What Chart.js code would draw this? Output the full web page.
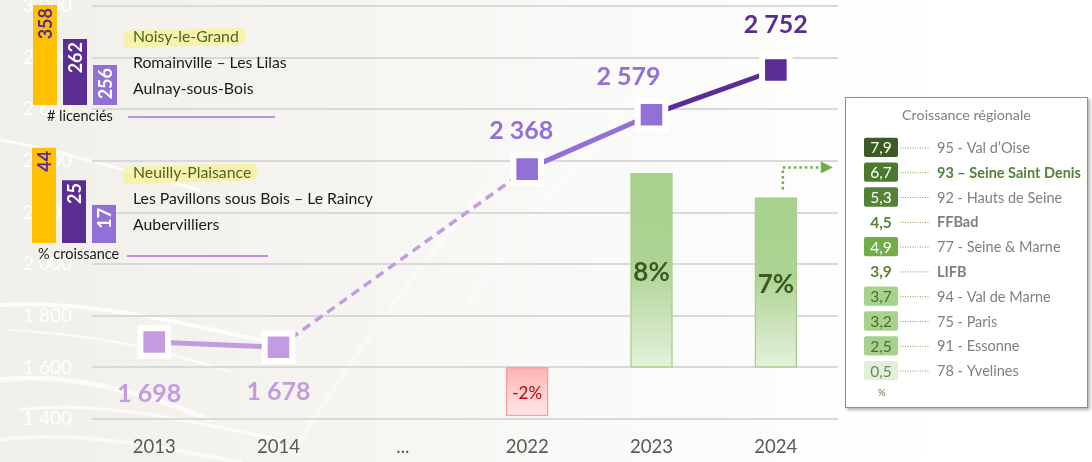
<!DOCTYPE html>
<html lang="fr">
<head>
<meta charset="utf-8">
<script src="https://cdn.jsdelivr.net/npm/chart.js@4.4.1/dist/chart.umd.min.js"></script>
<style>
  html, body { margin: 0; padding: 0; }
  body {
    width: 1092px; height: 462px; overflow: hidden; position: relative;
    font-family: Lato, 'Open Sans', sans-serif;
    background: linear-gradient(90deg, #f1efe9 0%, #f5f4f0 28%, #f9f9f7 52%, #fdfdfc 74%, #ffffff 86%);
  }
  #swirl { position: absolute; left: 0; top: 0; }
  #main { position: absolute; left: 0; top: 0; }
  .mini { position: absolute; }
  .town { position: absolute; font-size: 15.8px; color: #1a1a1a; white-space: nowrap; line-height: 1; transform: translateY(-50%); }
  .town.first { color: #4f6228; }
  .town.first::before {
    content: ''; position: absolute; left: -10px; right: -6px; top: 1px; bottom: -2px; z-index: -1;
    background: rgba(248, 242, 150, 0.75); border-radius: 6px 3px 7px 2px; transform: rotate(-1.5deg);
  }
  .caption { position: absolute; font-size: 14.5px; color: #1a1a1a; line-height: 1; transform: translateY(-50%); white-space: nowrap; }
  .rule { position: absolute; height: 1.5px; background: #b894e0; }
  #panel {
    position: absolute; left: 845px; top: 97px; width: 243px; height: 311px; box-sizing: border-box;
    background: #fff; border: 1px solid #8c8c8c; box-shadow: 2px 2px 3px rgba(0,0,0,0.3);
  }
  #panel .title { position: absolute; left: 0; right: 0; top: 8px; text-align: center; font-size: 14.3px; color: #808080; }
  #panel .unit { position: absolute; left: 32px; top: 289px; font-size: 9.5px; color: #548235; }
  #regionChart { position: absolute; left: 18px; top: 37px; }
</style>
</head>
<body>
<svg id="swirl" width="1092" height="462">
  <g fill="none" stroke="#ffffff" stroke-linecap="round">
    <path d="M0 140 C 60 150, 120 170, 200 190" stroke-width="3" opacity="0.8"/>
    <path d="M0 305 C 80 300, 160 318, 260 340" stroke-width="4" opacity="0.8"/>
    <path d="M10 330 C 90 335, 150 345, 230 372" stroke-width="2" opacity="0.8"/>
    <path d="M0 380 C 60 372, 140 390, 210 420" stroke-width="5" opacity="0.7"/>
    <path d="M20 410 C 90 400, 180 418, 280 440" stroke-width="3" opacity="0.7"/>
    <path d="M0 440 C 70 430, 150 445, 240 462" stroke-width="4" opacity="0.6"/>
    <path d="M300 440 C 350 360, 420 260, 520 150" stroke-width="6" opacity="0.35"/>
    <path d="M470 300 C 520 230, 580 160, 640 90" stroke-width="8" opacity="0.3"/>
  </g>
</svg>
<canvas id="main" width="1092" height="462"></canvas>
<canvas id="miniLicencies" class="mini" width="90" height="105" style="left:30px;top:0px"></canvas>
<canvas id="miniGrowth" class="mini" width="90" height="100" style="left:29px;top:143px"></canvas>
<div id="towns"></div>
<div class="caption" style="left:47px;top:116px"># licenciés</div>
<div class="rule" style="left:128px;top:116px;width:147px"></div>
<div class="caption" style="left:38px;top:254px">% croissance</div>
<div class="rule" style="left:127px;top:255px;width:141px"></div>
<div id="panel">
  <div class="title">Croissance régionale</div>
  <canvas id="regionChart" width="222" height="248"></canvas>
  <div class="unit">%</div>
</div>
<script>
const years = ['2013', '2014', '...', '2022', '2023', '2024'];
const licencies = [1698, 1678, null, 2368, 2579, 2752];
const growthPct = [null, null, null, -2, 8, 7];

const topTownsLicencies = ['Noisy-le-Grand', 'Romainville – Les Lilas', 'Aulnay-sous-Bois'];
const licenciesByTown = [358, 262, 256];
const topTownsGrowth = ['Neuilly-Plaisance', 'Les Pavillons sous Bois – Le Raincy', 'Aubervilliers'];
const growthByTown = [44, 25, 17];
const podium = [100, 66, 40]; // decorative podium heights, not proportional

const regions = ['95 - Val d’Oise', '93 – Seine Saint Denis', '92 - Hauts de Seine', 'FFBad', '77 - Seine & Marne',
  'LIFB', '94 - Val de Marne', '75 - Paris', '91 - Essonne', '78 - Yvelines'];
const regionGrowth = [7.9, 6.7, 5.3, 4.5, 4.9, 3.9, 3.7, 3.2, 2.5, 0.5];
const benchmarks = ['FFBad', 'LIFB'];
const highlighted = '93 – Seine Saint Denis';

const Y_MIN = 1400, Y_MAX = 3000, Y_ZERO = 1600, LIC_PER_PCT = 94;
const FONT = 'Lato, "Open Sans", sans-serif';
const PURPLE = { light: '#c39be0', mid: '#9370d6', dark: '#5b2c95' };

const fmt = (n) => String(n).replace(/\B(?=(\d{3})+(?!\d))/g, ' ');
const tier = (i) => i <= 1 ? PURPLE.light : i <= 4 ? PURPLE.mid : PURPLE.dark;
const isGap = (s) => licencies[s.p0DataIndex] == null; // segment spanning the "..." gap

// town names as text
const townsBox = document.getElementById('towns');
function addTowns(names, x, y0) {
    names.forEach((name, i) => {
        const d = document.createElement('div');
        d.className = 'town' + (i === 0 ? ' first' : '');
        d.style.left = x + 'px';
        d.style.top = (y0 + i * 26) + 'px';
        d.textContent = name;
        townsBox.appendChild(d);
    });
}
addTowns(topTownsLicencies, 133, 36);
addTowns(topTownsGrowth, 133, 172);

// faint white y labels, drawn by hand so they add no padding to the chart area
const yLabelsPlugin = {
    id: 'yLabels',
    beforeDatasetsDraw(chart) {
        const ctx = chart.ctx, y = chart.scales.y;
        ctx.save();
        ctx.textAlign = 'right';
        ctx.textBaseline = 'middle';
        ctx.font = '19px ' + FONT;
        ctx.fillStyle = 'rgba(255,255,255,0.95)';
        y.ticks.forEach((t) => ctx.fillText(fmt(t.value), chart.chartArea.left - 20, y.getPixelForValue(t.value)));
        ctx.restore();
    }
};

const labelsPlugin = {
    id: 'labels',
    afterDatasetsDraw(chart) {
        const ctx = chart.ctx;
        const line = chart.getDatasetMeta(0).data;
        ctx.save();
        ctx.textAlign = 'center';
        ctx.textBaseline = 'middle';
        ctx.font = 'bold 25px ' + FONT;
        licencies.forEach((v, i) => {
            if (v == null) return;
            const p = line[i];
            const dy = i < 2 ? 52 - (i * 7) : -38 - (i === 5 ? 7 : 0);
            const dx = i === 0 ? -5 : i === 3 ? -6 : i === 4 ? -23 : 0;
            ctx.fillStyle = tier(i);
            ctx.fillText(fmt(v), p.x + dx, p.y + dy);
        });
        const bars = chart.getDatasetMeta(1).data;
        growthPct.forEach((v, i) => {
            if (v == null) return;
            const b = bars[i];
            const mid = (b.y + b.base) / 2;
            if (v < 0) {
                ctx.font = '17px ' + FONT;
                ctx.fillStyle = '#c00000';
            } else {
                ctx.font = 'bold 26px ' + FONT;
                ctx.fillStyle = '#3b5a22';
            }
            ctx.fillText(v + '%', b.x, mid + 2);
        });
        // dotted arrow towards the regional panel
        const last = bars[bars.length - 1];
        const ax = last.x + 7, ay = last.y - 30;
        ctx.strokeStyle = '#70ad47';
        ctx.fillStyle = '#70ad47';
        ctx.lineWidth = 2.5;
        ctx.setLineDash([2.5, 3]);
        ctx.beginPath();
        ctx.moveTo(ax, last.y - 8);
        ctx.lineTo(ax, ay);
        ctx.lineTo(ax + 38, ay);
        ctx.stroke();
        ctx.setLineDash([]);
        ctx.beginPath();
        ctx.moveTo(ax + 38, ay - 6);
        ctx.lineTo(ax + 50, ay);
        ctx.lineTo(ax + 38, ay + 6);
        ctx.closePath();
        ctx.fill();
        ctx.restore();
    }
};

function barFill(c) {
    const v = c.raw;
    const y2 = c.chart.scales.y2;
    if (v == null || !y2) return '#a9d18e';
    const top = y2.getPixelForValue(Math.max(v, 0));
    const bot = y2.getPixelForValue(Math.min(v, 0));
    const g = c.chart.ctx.createLinearGradient(0, top, 0, bot);
    if (v < 0) {
        g.addColorStop(0, '#ffb3b3');
        g.addColorStop(1, '#ffe8e8');
    } else {
        g.addColorStop(0, '#a9d18e');
        g.addColorStop(0.45, '#acd391');
        g.addColorStop(1, '#e4f1dc');
    }
    return g;
}

new Chart(document.getElementById('main'), {
    data: {
        labels: years,
        datasets: [{
            type: 'line',
            data: licencies,
            order: 0,
            spanGaps: true,
            borderWidth: 5,
            pointStyle: 'rect',
            pointRadius: 19.5,
            pointHoverRadius: 19.5,
            pointBorderWidth: 6,
            pointBorderColor: '#ffffff',
            pointBackgroundColor: (c) => tier(c.dataIndex),
            segment: {
                borderColor: (s) => isGap(s) ? PURPLE.light : tier(s.p1DataIndex),
                borderDash: (s) => isGap(s) ? [9, 6] : undefined,
                borderWidth: (s) => isGap(s) ? 3.5 : undefined
            },
            yAxisID: 'y'
        }, {
            type: 'bar',
            data: growthPct,
            order: 1,
            yAxisID: 'y2',
            barThickness: 42,
            backgroundColor: barFill,
            borderColor: (c) => c.raw < 0 ? '#ff9c9c' : '#a9d18e',
            borderWidth: 1.5,
            borderSkipped: false
        }]
    },
    options: {
        responsive: false,
        animation: false,
        events: [],
        layout: { autoPadding: false, padding: { top: 6, right: 254, bottom: 0, left: 0 } },
        plugins: { legend: { display: false }, tooltip: { enabled: false } },
        scales: {
            x: {
                grid: { display: false },
                border: { display: false },
                ticks: { color: '#595959', font: { family: FONT, size: 18.5 }, padding: 9 },
                afterFit(scale) { scale.height = 43; }
            },
            y: {
                min: Y_MIN, max: Y_MAX,
                grid: { color: '#d9d9d9', lineWidth: 2, drawTicks: false },
                border: { display: false },
                ticks: { stepSize: 200, display: false },
                afterFit(scale) { scale.width = 92; }
            },
            y2: {
                display: false,
                min: (Y_MIN - Y_ZERO) / LIC_PER_PCT,
                max: (Y_MAX - Y_ZERO) / LIC_PER_PCT
            }
        }
    },
    plugins: [yLabelsPlugin, labelsPlugin]
});

// decorative podium legends
function podiumChart(id, values) {
    new Chart(document.getElementById(id), {
        type: 'bar',
        data: {
            labels: values.map(String),
            datasets: [{
                data: podium,
                backgroundColor: ['#ffc000', '#5b2c91', '#9370d6'],
                barPercentage: 0.8,
                categoryPercentage: 1
            }]
        },
        options: {
            responsive: false,
            animation: false,
            events: [],
            layout: { padding: 0 },
            plugins: { legend: { display: false }, tooltip: { enabled: false } },
            scales: {
                x: { display: false },
                y: { display: false, min: 0, max: 105 }
            }
        },
        plugins: [{
            id: 'podiumLabels',
            afterDatasetsDraw(chart) {
                const ctx = chart.ctx;
                chart.getDatasetMeta(0).data.forEach((b, i) => {
                    ctx.save();
                    ctx.translate(b.x, b.y + 3);
                    ctx.rotate(-Math.PI / 2);
                    ctx.textAlign = 'right';
                    ctx.textBaseline = 'middle';
                    ctx.font = 'bold 18px ' + FONT;
                    ctx.fillStyle = i === 0 ? '#5b2c91' : '#ffffff';
                    ctx.fillText(String(values[i]), 0, 1);
                    ctx.restore();
                });
            }
        }]
    });
}
podiumChart('miniLicencies', licenciesByTown);
podiumChart('miniGrowth', growthByTown);

// regional growth boxes
function boxColor(v) {
    if (v >= 7) return '#3b5a24';
    if (v >= 6) return '#4a7a2c';
    if (v >= 5) return '#548235';
    if (v >= 4) return '#70ad47';
    if (v >= 2) return '#a9d18e';
    return '#e2f0d9';
}
const isBench = (name) => benchmarks.includes(name);
const comma = (v) => v.toFixed(1).replace('.', ',');

new Chart(document.getElementById('regionChart'), {
    type: 'bar',
    data: {
        labels: regions,
        datasets: [{
            data: regions.map((r) => isBench(r) ? null : [0, 1]),
            backgroundColor: regionGrowth.map(boxColor),
            borderRadius: 2,
            borderSkipped: false,
            barPercentage: 0.78,
            categoryPercentage: 1
        }]
    },
    options: {
        indexAxis: 'y',
        responsive: false,
        animation: false,
        events: [],
        layout: { padding: 0 },
        plugins: { legend: { display: false }, tooltip: { enabled: false } },
        scales: {
            x: { display: false, min: 0, max: 222 / 34 },
            y: { display: false }
        }
    },
    plugins: [{
        id: 'regionText',
        afterDatasetsDraw(chart) {
            const ctx = chart.ctx;
            const xs = chart.scales.x, ys = chart.scales.y;
            const cx = xs.getPixelForValue(0.5), edge = xs.getPixelForValue(1);
            ctx.save();
            ctx.textBaseline = 'middle';
            regions.forEach((name, i) => {
                const y = ys.getPixelForValue(i);
                const v = regionGrowth[i];
                const bench = isBench(name);
                ctx.textAlign = 'center';
                if (bench) {
                    ctx.font = 'bold 15.5px ' + FONT;
                    ctx.fillStyle = '#548235';
                } else {
                    ctx.font = '15.5px ' + FONT;
                    ctx.fillStyle = v >= 4 ? '#ffffff' : v >= 2 ? '#4f6b34' : '#6a8a55';
                }
                ctx.fillText(comma(v), cx, y + 1);
                ctx.strokeStyle = '#70ad47';
                ctx.lineWidth = 1;
                ctx.setLineDash([1, 1.5]);
                ctx.beginPath();
                ctx.moveTo(edge + 2, y + 0.5);
                ctx.lineTo(edge + 32, y + 0.5);
                ctx.stroke();
                ctx.setLineDash([]);
                ctx.textAlign = 'left';
                if (name === highlighted) {
                    ctx.font = 'bold 14.5px ' + FONT;
                    ctx.fillStyle = '#548235';
                } else {
                    ctx.font = (bench ? 'bold ' : '') + '14.5px ' + FONT;
                    ctx.fillStyle = '#7f7f7f';
                }
                ctx.fillText(name, edge + 39, y + 1);
            });
            ctx.restore();
        }
    }]
});
</script>
</body>
</html>
